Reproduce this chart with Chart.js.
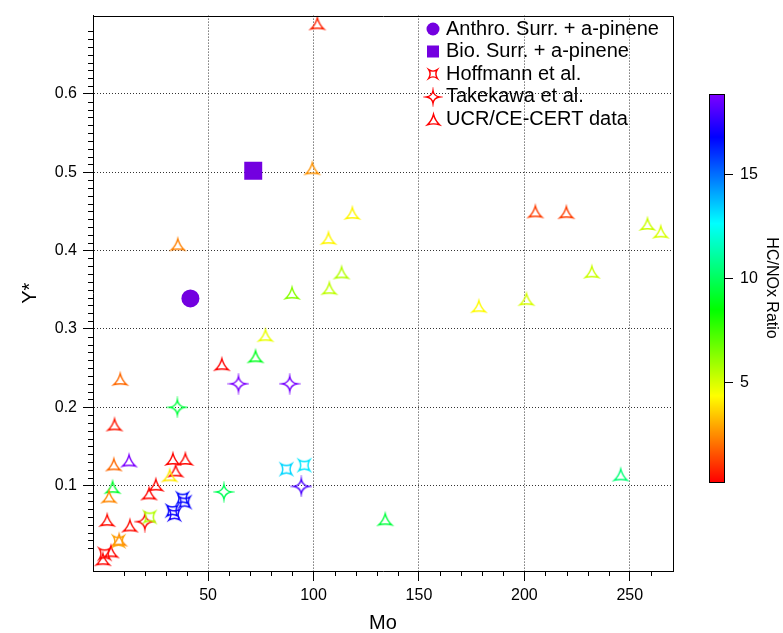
<!DOCTYPE html>
<html><head><meta charset="utf-8">
<script src="https://cdn.jsdelivr.net/npm/chart.js@4.4.1/dist/chart.umd.min.js"></script>
<style>html,body{margin:0;padding:0;background:#fff}canvas{display:block}</style>
</head><body>
<canvas id="c" width="783" height="633"></canvas>
<script>
// ---------- data ----------
const ucrMo = [101.8, 99.4, 118.4, 107.1, 113.3, 107.5, 89.8, 77.2, 72.5, 56.5, 35.6, 8.3, 5.6, 5.3, 12.5, 4.7, 3.0, 2.1, 12.9, 7.8, 0.1, 3.9, 33.3, 39.2, 34.6, 31.8, 25.2, 22.0, 134.0, 245.7, 205.2, 219.9, 258.4, 264.7, 232.0, 201.0, 178.4];
const ucrY = [0.690, 0.505, 0.448, 0.416, 0.372, 0.352, 0.346, 0.292, 0.265, 0.255, 0.408, 0.236, 0.178, 0.127, 0.132, 0.098, 0.086, 0.056, 0.049, 0.031, 0.006, 0.016, 0.134, 0.134, 0.119, 0.113, 0.101, 0.090, 0.057, 0.114, 0.450, 0.449, 0.434, 0.424, 0.373, 0.338, 0.329];
const ucrRatio = [0.75, 2.6, 4.2, 4.2, 5.6, 5.4, 6.3, 4.7, 9.0, 0.2, 2.3, 1.9, 0.55, 1.9, 18.8, 9.2, 2.4, 0.4, 0.4, 2.4, 0.3, 0.3, 0.3, 0.3, 0.3, 4.0, 0.3, 0.3, 9.5, 10.4, 1.2, 1.2, 5.2, 5.0, 5.2, 5.0, 4.3];

const hofMo = [0.9, 7.5, 22.3, 33.0, 34.0, 37.9, 38.9, 87.1, 95.6];
const hofY = [0.013, 0.029, 0.060, 0.068, 0.063, 0.084, 0.079, 0.121, 0.126];
const hofRatio = [0.3, 2.8, 5.6, 16.8, 17.1, 16.6, 16.9, 13.3, 13.0];

const takMo = [20.0, 35.4, 57.5, 64.4, 88.7, 94.2];
const takY = [0.054, 0.200, 0.092, 0.230, 0.230, 0.099];
const takRatio = [0.3, 9.5, 9.9, 18.8, 18.7, 18.0];

const anthroMo = [41.6];
const anthroY = [0.339];
const bioMo = [71.4];
const bioY = [0.502];

const seriesLabels = ['Anthro. Surr. + a-pinene', 'Bio. Surr. + a-pinene', 'Hoffmann et al.', 'Takekawa et al.', 'UCR/CE-CERT data'];
const xTicks = [50, 100, 150, 200, 250];
const yTicks = [0.1, 0.2, 0.3, 0.4, 0.5, 0.6];
const cbarTicks = [5, 10, 15];
const cbarMin = 0.2, cbarMax = 18.85;
const xTitle = 'Mo', yTitle = 'Y*', cbarTitle = 'HC/NOx Ratio';

// ---------- styling ----------
const FONT = '"Liberation Sans", Arial, sans-serif';
const VIOLET = '#7300e0';
Chart.defaults.color = '#000';
Chart.defaults.font.family = FONT;

function ratioColor(v) {
  let t = (v - cbarMin) / (cbarMax - cbarMin);
  t = Math.max(0, Math.min(1, t));
  return 'hsl(' + (t * 270).toFixed(1) + ',100%,50%)';
}

const shapeCache = {};
function shapeCanvas(kind, color, r) {
  const key = kind + '|' + color + '|' + r;
  if (shapeCache[key]) return shapeCache[key];
  const lw = 1.4;
  const s = Math.ceil(2 * r + 2 * lw + 4);
  const cv = document.createElement('canvas');
  cv.width = s; cv.height = s;
  const g = cv.getContext('2d');
  g.translate(s / 2, s / 2);
  g.strokeStyle = color; g.lineWidth = lw; g.lineJoin = 'miter';
  let verts, k;
  if (kind === 'tri') {
    verts = [-90, 30, 150].map(a => [r * Math.cos(a * Math.PI / 180), r * Math.sin(a * Math.PI / 180) + r * 0.25]);
    k = 0.5;
  } else if (kind === 'star') {
    verts = [[0, -r], [r, 0], [0, r], [-r, 0]];
    k = 0.25;
  } else {
    const h = r * 0.78;
    verts = [[-h, -h], [h, -h], [h, h], [-h, h]];
    k = 0.35;
  }
  let cx = 0, cy = 0;
  verts.forEach(p => { cx += p[0] / verts.length; cy += p[1] / verts.length; });
  g.beginPath();
  g.moveTo(verts[0][0], verts[0][1]);
  for (let i = 0; i < verts.length; i++) {
    const p = verts[i], q = verts[(i + 1) % verts.length];
    const mx = (p[0] + q[0]) / 2, my = (p[1] + q[1]) / 2;
    g.quadraticCurveTo(cx + (mx - cx) * k, cy + (my - cy) * k, q[0], q[1]);
  }
  g.closePath();
  g.stroke();
  shapeCache[key] = cv;
  return cv;
}

function pts(xs, ys) { return xs.map((x, i) => ({x: x, y: ys[i]})); }

const datasets = [
  {label: seriesLabels[2], data: pts(hofMo, hofY), pointRadius: 6,
   pointStyle: c => shapeCanvas('sq', ratioColor(hofRatio[c.dataIndex]), 7)},
  {label: seriesLabels[3], data: pts(takMo, takY), pointRadius: 6,
   pointStyle: c => shapeCanvas('star', ratioColor(takRatio[c.dataIndex]), 7.5)},
  {label: seriesLabels[4], data: pts(ucrMo, ucrY), pointRadius: 6,
   pointStyle: c => shapeCanvas('tri', ratioColor(ucrRatio[c.dataIndex]), 7.5)},
  {label: seriesLabels[0], data: pts(anthroMo, anthroY), pointStyle: 'circle', pointRadius: 9,
   backgroundColor: VIOLET, borderColor: VIOLET, borderWidth: 0},
  {label: seriesLabels[1], data: pts(bioMo, bioY), pointStyle: 'rect', pointRadius: 12.7,
   backgroundColor: VIOLET, borderColor: VIOLET, borderWidth: 0}
];

// ---------- plugins ----------
const framePlugin = {
  id: 'frame',
  afterDraw(chart) {
    const ctx = chart.ctx, a = chart.chartArea;
    const xs = chart.scales.x, ys = chart.scales.y;
    ctx.save();
    ctx.strokeStyle = '#000'; ctx.lineWidth = 1;
    ctx.beginPath();
    ctx.moveTo(Math.round(a.left) + 0.5, Math.round(a.top) + 0.5);
    ctx.lineTo(Math.round(a.right) + 0.5, Math.round(a.top) + 0.5);
    ctx.lineTo(Math.round(a.right) + 0.5, Math.round(a.bottom) + 0.5);
    ctx.stroke();
    // minor ticks
    ctx.beginPath();
    for (let v = 10; v <= 260; v += 10) {
      if (v % 50 === 0) continue;
      const px = Math.round(xs.getPixelForValue(v)) + 0.5;
      ctx.moveTo(px, Math.round(a.bottom)); ctx.lineTo(px, Math.round(a.bottom) + 5);
    }
    for (let i = 2; i <= 68; i++) {
      if (i % 10 === 0) continue;
      const py = Math.round(ys.getPixelForValue(i / 100)) + 0.5;
      ctx.moveTo(Math.round(a.left), py); ctx.lineTo(Math.round(a.left) - 5, py);
    }
    ctx.stroke();
    ctx.restore();
  }
};

const legendPlugin = {
  id: 'insideLegend',
  afterDatasetsDraw(chart) {
    const ctx = chart.ctx;
    const mx = 433, tx = 446, y0 = 29, dy = 22.5;
    ctx.save();
    ctx.font = '20px ' + FONT;
    ctx.textBaseline = 'middle'; ctx.textAlign = 'left';
    seriesLabels.forEach((lab, i) => {
      const y = y0 + i * dy;
      if (i === 0) {
        ctx.fillStyle = VIOLET; ctx.beginPath(); ctx.arc(mx, y, 6.5, 0, Math.PI * 2); ctx.fill();
      } else if (i === 1) {
        ctx.fillStyle = VIOLET; ctx.fillRect(mx - 6, y - 6, 12, 12);
      } else {
        const kind = i === 2 ? 'sq' : (i === 3 ? 'star' : 'tri');
        const r = i === 2 ? 5.5 : (i === 3 ? 6.5 : 7);
        const cv = shapeCanvas(kind, '#ff0000', r);
        ctx.drawImage(cv, Math.round(mx - cv.width / 2), Math.round(y - cv.height / 2));
      }
      ctx.fillStyle = '#000';
      ctx.fillText(lab, tx, y);
    });
    ctx.restore();
  }
};

const colorbarPlugin = {
  id: 'colorbar',
  afterDraw(chart) {
    const ctx = chart.ctx;
    const L = 709, R = 724, T = 94, B = 482;
    ctx.save();
    for (let y = T; y < B; y++) {
      const v = cbarMax - (y + 0.5 - T) / (B - T) * (cbarMax - cbarMin);
      ctx.fillStyle = ratioColor(v);
      ctx.fillRect(L, y, R - L, 1);
    }
    ctx.strokeStyle = '#000'; ctx.lineWidth = 1;
    ctx.strokeRect(L + 0.5, T + 0.5, R - L, B - T);
    ctx.font = '16px ' + FONT; ctx.fillStyle = '#000';
    ctx.textBaseline = 'middle'; ctx.textAlign = 'left';
    ctx.beginPath();
    cbarTicks.forEach(t => {
      const y = Math.round(B - (t - cbarMin) / (cbarMax - cbarMin) * (B - T)) + 0.5;
      ctx.moveTo(R, y); ctx.lineTo(R + 9, y);
      ctx.fillText(String(t), R + 16, y);
    });
    ctx.stroke();
    ctx.translate(771, (T + B) / 2);
    ctx.rotate(Math.PI / 2);
    ctx.textAlign = 'center';
    ctx.fillText(cbarTitle, 0, 0);
    ctx.restore();
  }
};

// ---------- chart ----------
new Chart(document.getElementById('c'), {
  type: 'scatter',
  data: {datasets: datasets},
  options: {
    responsive: false,
    animation: false,
    events: [],
    layout: {padding: {top: 12, right: 110, bottom: 0, left: 0}},
    plugins: {legend: {display: false}, tooltip: {enabled: false}},
    scales: {
      x: {
        type: 'linear', min: -4.6, max: 270.5,
        afterBuildTicks: s => { s.ticks = xTicks.map(v => ({value: v})); },
        afterFit: s => { s.height = 62; },
        ticks: {font: {size: 16}, padding: 5, maxRotation: 0, autoSkip: false, callback: v => String(v)},
        grid: {color: '#333', lineWidth: 1, tickLength: 10, tickColor: '#000', tickWidth: 1},
        border: {display: true, color: '#000', width: 1, dash: [1, 2]},
        title: {display: true, text: xTitle, font: {size: 20, lineHeight: 1}, padding: {top: 0, bottom: 0}}
      },
      y: {
        type: 'linear', min: -0.009, max: 0.70,
        afterBuildTicks: s => { s.ticks = yTicks.map(v => ({value: v})); },
        afterFit: s => { s.width = 93; },
        ticks: {font: {size: 16}, padding: 6, autoSkip: false, callback: v => Number(v).toFixed(1)},
        grid: {color: '#333', lineWidth: 1, tickLength: 10, tickColor: '#000', tickWidth: 1},
        border: {display: true, color: '#000', width: 1, dash: [1, 2]},
        title: {display: true, text: yTitle, font: {size: 20, lineHeight: 1}, padding: {top: 20, bottom: 0}}
      }
    }
  },
  plugins: [framePlugin, legendPlugin, colorbarPlugin]
});
</script>
</body></html>
